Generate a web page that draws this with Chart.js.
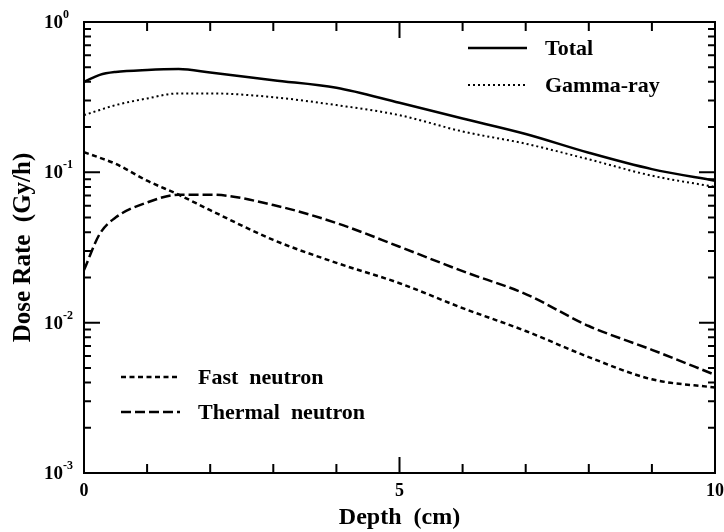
<!DOCTYPE html>
<html>
<head>
<meta charset="utf-8">
<title>Dose Rate vs Depth</title>
<script src="https://cdn.jsdelivr.net/npm/chart.js@4.4.1/dist/chart.umd.min.js"></script>
<style>
  html, body { margin: 0; padding: 0; background: #fff; }
  canvas { display: block; }
</style>
</head>
<body>
<canvas id="doseChart" width="724" height="532"></canvas>
<script>
const depthCm = [0, 0.25, 0.5, 1, 1.5, 2, 3, 4, 5, 6, 7, 8, 9, 10];
const totalDose = [0.40, 0.445, 0.465, 0.48, 0.486, 0.462, 0.41, 0.365, 0.29, 0.228, 0.18, 0.135, 0.105, 0.088];
const gammaDose = [0.24, 0.26, 0.28, 0.31, 0.335, 0.335, 0.316, 0.28, 0.24, 0.187, 0.155, 0.122, 0.095, 0.080];
const fastDose = [0.136, 0.125, 0.114, 0.088, 0.071, 0.056, 0.0355, 0.025, 0.0183, 0.0125, 0.0088, 0.0059, 0.0042, 0.0037];
const thermalDose = [0.0224, 0.039, 0.05, 0.063, 0.071, 0.071, 0.0606, 0.046, 0.032, 0.022, 0.0155, 0.0095, 0.0066, 0.0045];

const seriesLabels = ["Total", "Gamma-ray", "Fast  neutron", "Thermal  neutron"];
const xTickLabels = ["0", "5", "10"];
const xMinorTicks = [1, 2, 3, 4, 6, 7, 8, 9];
const yTickValues = [1, 0.1, 0.01, 0.001];
const yTickExponents = ["0", "-1", "-2", "-3"];

const SERIF = '"Liberation Serif", "Times New Roman", serif';

function toPoints(values) {
  return depthCm.map((d, i) => ({ x: d, y: values[i] }));
}

// frame + inward ticks on all four sides, and the 10^n labels
const frameTicks = {
  id: "frameTicks",
  afterDatasetsDraw(chart) {
    const { ctx, chartArea: a } = chart;
    const xs = chart.scales.x, ys = chart.scales.y;
    ctx.save();
    ctx.strokeStyle = "#000";
    ctx.lineWidth = 2;
    ctx.strokeRect(a.left, a.top, a.right - a.left, a.bottom - a.top);

    ctx.beginPath();
    const xTick = (v, len) => {
      const px = xs.getPixelForValue(v);
      ctx.moveTo(px, a.bottom); ctx.lineTo(px, a.bottom - len);
      ctx.moveTo(px, a.top); ctx.lineTo(px, a.top + len);
    };
    xMinorTicks.forEach(v => xTick(v, 9));
    xTick(5, 16);

    const yTick = (v, len) => {
      const py = ys.getPixelForValue(v);
      ctx.moveTo(a.left, py); ctx.lineTo(a.left + len, py);
      ctx.moveTo(a.right, py); ctx.lineTo(a.right - len, py);
    };
    yTickValues.forEach(dec => {
      yTick(dec, 16);
      if (dec < 1) {
        for (let k = 2; k <= 9; k++) yTick(dec * k, 7);
      }
    });
    ctx.stroke();

    ctx.fillStyle = "#000";
    ctx.textBaseline = "middle";
    yTickValues.forEach((v, i) => {
      const py = ys.getPixelForValue(v);
      ctx.font = "bold 19px " + SERIF;
      ctx.textAlign = "right";
      ctx.fillText("10", 63, py + 1);
      ctx.font = "bold 12px " + SERIF;
      ctx.textAlign = "left";
      ctx.fillText(yTickExponents[i], 63, py - 7);
    });
    ctx.restore();
  }
};

// two small legend blocks, one upper right, one lower left
const splitLegend = {
  id: "splitLegend",
  afterDraw(chart, args, opts) {
    const ctx = chart.ctx;
    ctx.save();
    opts.items.forEach(item => {
      const ds = chart.data.datasets[item.index];
      ctx.strokeStyle = ds.borderColor;
      ctx.lineWidth = ds.borderWidth;
      ctx.setLineDash(ds.borderDash || []);
      ctx.beginPath();
      ctx.moveTo(item.x, item.y);
      ctx.lineTo(item.x + opts.sampleWidth, item.y);
      ctx.stroke();
      ctx.setLineDash([]);
      ctx.fillStyle = "#000";
      ctx.font = "bold 22px " + SERIF;
      ctx.textAlign = "left";
      ctx.textBaseline = "middle";
      ctx.fillText(ds.label, item.x + opts.sampleWidth + opts.gap, item.y + 1);
    });
    ctx.restore();
  }
};

new Chart(document.getElementById("doseChart"), {
  type: "line",
  data: {
    datasets: [
      { label: seriesLabels[0], data: toPoints(totalDose), borderColor: "#000", borderWidth: 2.5 },
      { label: seriesLabels[1], data: toPoints(gammaDose), borderColor: "#000", borderWidth: 2, borderDash: [2, 3] },
      { label: seriesLabels[2], data: toPoints(fastDose), borderColor: "#000", borderWidth: 2.5, borderDash: [5, 3.5] },
      { label: seriesLabels[3], data: toPoints(thermalDose), borderColor: "#000", borderWidth: 2.5, borderDash: [10, 4] }
    ]
  },
  options: {
    responsive: false,
    devicePixelRatio: 1,
    animation: false,
    elements: {
      point: { radius: 0 },
      line: { cubicInterpolationMode: "monotone", fill: false }
    },
    layout: { padding: { top: 22, right: 9, left: 0, bottom: 0 } },
    plugins: {
      legend: { display: false },
      tooltip: { enabled: false },
      splitLegend: {
        sampleWidth: 59,
        gap: 18,
        items: [
          { index: 0, x: 468, y: 48 },
          { index: 1, x: 468, y: 85 },
          { index: 2, x: 121, y: 377 },
          { index: 3, x: 121, y: 412 }
        ]
      }
    },
    scales: {
      x: {
        type: "linear",
        min: 0,
        max: 10,
        grid: { display: false, drawTicks: false },
        border: { display: false },
        ticks: {
          stepSize: 5,
          padding: 8,
          color: "#000",
          font: { family: SERIF, size: 18, weight: "bold" },
          maxRotation: 0,
          callback: (v) => xTickLabels[v / 5]
        },
        title: {
          display: true,
          text: "Depth  (cm)",
          color: "#000",
          font: { family: SERIF, size: 24, weight: "bold" },
          padding: { top: 3, bottom: 0 }
        },
        afterFit(scale) {
          scale.height = 59;
          scale.paddingLeft = 0;
          scale.paddingRight = 0;
        }
      },
      y: {
        type: "logarithmic",
        min: 0.001,
        max: 1,
        grid: { display: false, drawTicks: false },
        border: { display: false },
        ticks: { display: false },
        title: {
          display: true,
          text: "Dose Rate  (Gy/h)",
          color: "#000",
          font: { family: SERIF, size: 25, weight: "bold" },
          padding: { top: 9, bottom: 0 }
        },
        afterFit(scale) { scale.width = 84; }
      }
    }
  },
  plugins: [frameTicks, splitLegend]
});
</script>
</body>
</html>
